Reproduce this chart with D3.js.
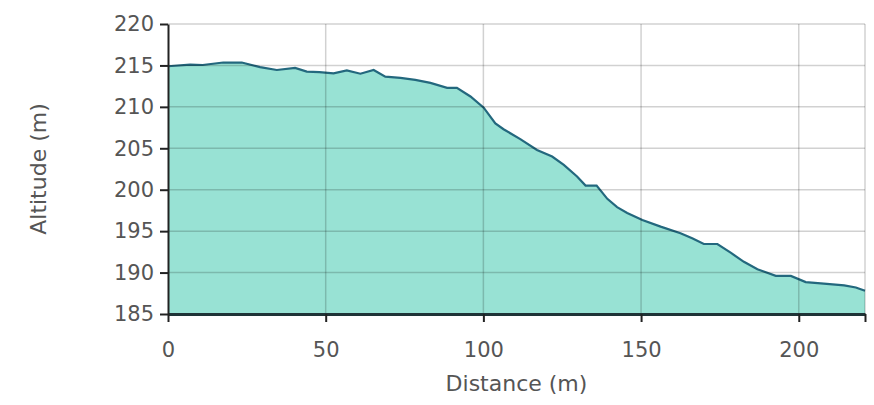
<!DOCTYPE html>
<html>
<head>
<meta charset="utf-8">
<script src="https://cdn.jsdelivr.net/npm/d3@7"></script>
<style>
  body { margin: 0; background: #fff; }
  #chart { width: 874px; height: 405px; }
  .tick text { font-family: "DejaVu Sans", Verdana, sans-serif; font-size: 21px; fill: #555; }
  .axis-title { font-family: "DejaVu Sans", Verdana, sans-serif; font-size: 22px; fill: #555; }
</style>
</head>
<body>
<div id="chart"></div>
<script>
// Perfil de altitud
const distancias = [0, 7, 11, 17.5, 23.4, 29.2, 34.5, 40.3, 44, 48, 52.5, 56.7, 61, 65.2, 68.9, 73.7, 78.4, 83.2, 88.5, 91.6, 95.9, 100.1, 103.8, 106.4, 111.7, 117, 121.8, 125.5, 129.7, 132.4, 135.9, 139.3, 142.4, 145.6, 150.4, 156.2, 162.5, 166.2, 169.9, 174.2, 178.4, 182.6, 186.9, 192.7, 197.5, 202.2, 207, 214.4, 218.1, 221];
const altitudes = [214.9, 215.1, 215.05, 215.35, 215.35, 214.8, 214.45, 214.7, 214.25, 214.2, 214.05, 214.4, 214.0, 214.45, 213.65, 213.5, 213.25, 212.9, 212.3, 212.3, 211.25, 209.9, 208.0, 207.3, 206.1, 204.8, 204.0, 203.0, 201.6, 200.5, 200.5, 198.9, 197.9, 197.2, 196.35, 195.55, 194.75, 194.15, 193.45, 193.45, 192.4, 191.3, 190.4, 189.6, 189.6, 188.85, 188.7, 188.45, 188.2, 187.8];
const xTicks = [0, 50, 100, 150, 200];
const yTicks = [185, 190, 195, 200, 205, 210, 215, 220];

const COLOR_FILL = '#98e2d4',
COLOR_LINE = '#23687e';

let data = distancias.map(function(d, i) { return {d: d, a: altitudes[i]}; });

let margin = {top: 24, right: 9, bottom: 91, left: 168},
    width = 874 - margin.left - margin.right,
    height = 405 - margin.top - margin.bottom;

let svg = d3.select('#chart')
    .append('svg')
        .attr('width', width + margin.left + margin.right)
        .attr('height', height + margin.top + margin.bottom)
    .append('g')
        .attr('transform', 'translate(' + margin.left + ',' + margin.top + ')');

let x = d3.scaleLinear().domain([0, 221]).range([0, width]);
let y = d3.scaleLinear().domain([185, 220]).range([height, 0]);

// Area
let area = d3.area()
    .x(function(d) { return x(d.d); })
    .y0(height)
    .y1(function(d) { return y(d.a); });

let line = d3.line()
    .x(function(d) { return x(d.d); })
    .y(function(d) { return y(d.a); });

svg.append('path')
    .datum(data)
    .attr('d', area)
    .attr('fill', COLOR_FILL);

svg.append('path')
    .datum(data)
    .attr('d', line)
    .attr('fill', 'none')
    .attr('stroke', COLOR_LINE)
    .attr('stroke-width', 2.2);

// Grid
let grid = svg.append('g').attr('class', 'grid');
grid.selectAll('.gy')
    .data(yTicks.slice(1))
    .enter()
    .append('line')
    .attr('x1', 0).attr('x2', width)
    .attr('y1', function(d) { return y(d); })
    .attr('y2', function(d) { return y(d); })
    .attr('stroke', 'rgba(0,0,0,0.18)')
    .attr('stroke-width', 1.5);
grid.selectAll('.gx')
    .data(xTicks.slice(1).concat([221]))
    .enter()
    .append('line')
    .attr('y1', 0).attr('y2', height)
    .attr('x1', function(d) { return x(d); })
    .attr('x2', function(d) { return x(d); })
    .attr('stroke', 'rgba(0,0,0,0.18)')
    .attr('stroke-width', 1.5);

// Ejes
let xAxis = function(g) {
    g.call(d3.axisBottom(x).tickValues(xTicks.concat([221])).tickSizeInner(8).tickSizeOuter(0).tickPadding(20)
        .tickFormat(function(d) { return d === 221 ? '' : d; }));
    g.select('.domain').attr('stroke', '#1f3437').attr('stroke-width', 3);
    g.selectAll('.tick line').attr('stroke', '#222').attr('stroke-width', 2);
};
svg.append('g')
    .attr('transform', 'translate(0,' + height + ')')
    .call(xAxis);

let yAxis = function(g) {
    g.call(d3.axisLeft(y).tickValues(yTicks).tickSizeInner(8).tickSizeOuter(0).tickPadding(6));
    g.select('.domain').attr('stroke', '#222').attr('stroke-width', 2);
    g.selectAll('.tick line').attr('stroke', '#222').attr('stroke-width', 2);
};
svg.append('g').call(yAxis);

// Titulos
svg.append('text')
    .attr('class', 'axis-title')
    .attr('x', width / 2)
    .attr('y', height + 77)
    .attr('text-anchor', 'middle')
    .text('Distance (m)');

svg.append('text')
    .attr('class', 'axis-title')
    .attr('transform', 'translate(' + (-122) + ',' + (height / 2) + ') rotate(-90)')
    .attr('text-anchor', 'middle')
    .text('Altitude (m)');
</script>
</body>
</html>
